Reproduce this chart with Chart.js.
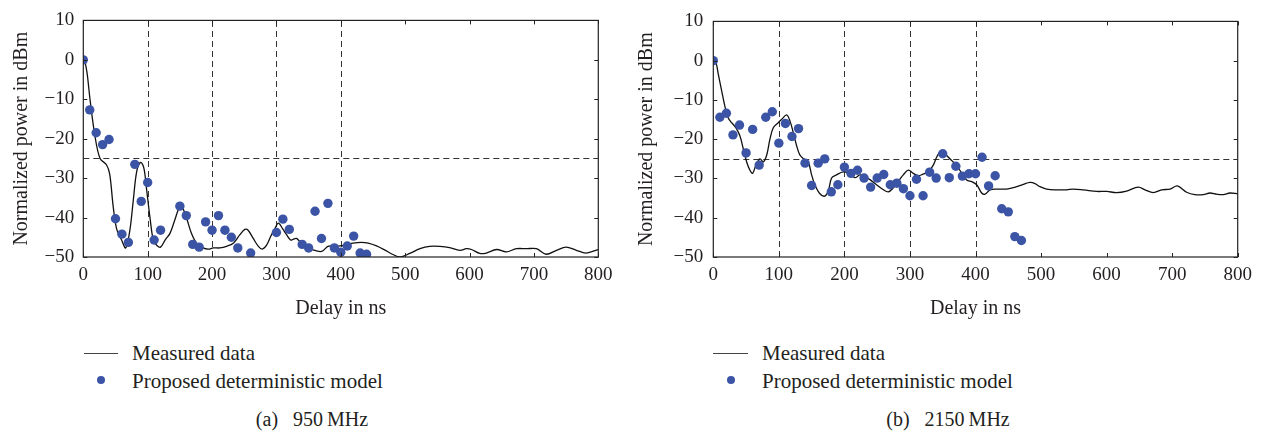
<!DOCTYPE html>
<html><head><meta charset="utf-8">
<script src="https://cdn.jsdelivr.net/npm/chart.js@4.4.1/dist/chart.umd.min.js"></script>
<style>
html,body{margin:0;padding:0;background:#fff;}
body{width:1264px;height:434px;position:relative;overflow:hidden;font-family:'Liberation Serif','DejaVu Serif',serif;color:#231f20;}
.cv{position:absolute;top:0;width:632px;height:330px;}
.txt{position:absolute;font-size:21px;line-height:24px;white-space:nowrap;}
.cap{position:absolute;font-size:20px;line-height:24px;white-space:nowrap;width:300px;text-align:center;}
.lline{position:absolute;height:0;border-top:1.5px solid #444;}
.ldot{position:absolute;width:8px;height:8px;border-radius:50%;background:#3b54a5;}
</style></head>
<body>
<div class="cv" style="left:0"><canvas id="c1" width="632" height="330"></canvas></div>
<div class="cv" style="left:632px"><canvas id="c2" width="632" height="330"></canvas></div>

<div class="lline" style="left:84px;top:353px;width:34px"></div>
<div class="txt" style="left:132px;top:341px">Measured data</div>
<div class="ldot" style="left:97px;top:376px"></div>
<div class="txt" style="left:132px;top:369px">Proposed deterministic model</div>
<div class="cap" style="left:162px;top:407px">(a)&ensp; 950&#8201;MHz</div>

<div class="lline" style="left:713px;top:353px;width:35px"></div>
<div class="txt" style="left:762px;top:341px">Measured data</div>
<div class="ldot" style="left:727px;top:376px"></div>
<div class="txt" style="left:762px;top:369px">Proposed deterministic model</div>
<div class="cap" style="left:798px;top:407px">(b)&ensp; 2150&#8201;MHz</div>

<script>
// ---- tick labels / reference lines ----
const delayTicks = [0, 100, 200, 300, 400, 500, 600, 700, 800];
const powerTicks = [10, 0, -10, -20, -30, -40, -50];
const refDelays = [100, 200, 300, 400];
const refPower = -25;

// ---- (a) 950 MHz ----
const measured950Delay = [0,2.6,6,10.4,18,26,36,41,46.6,52,59.5,66,72.5,77.6,83,89,94,98,103.5,108.7,114,120,127,134.6,142,150,155,161.5,168,176,186,194,202,212,222.5,233,243,251,256,264,272,278,284.7,291,297.6,303,309.5,316,322,326,331,336,347,357,370,380,388,398.5,409,419,432,442.5,455.5,468,480,492,507,523,538,554,569,585,595,603,616,626,642,657,673,688,704,719,735,750,766,781,800];
const measured950Power = [0,-0.6,-3.5,-10,-19.2,-25,-26.6,-29,-37.4,-43,-45.7,-47.7,-43,-35.7,-28.3,-26,-27.4,-32.4,-39.9,-45.7,-47,-47.5,-45.7,-44,-40.7,-37.2,-37.8,-40.7,-44,-46.5,-47.7,-48,-47.7,-47.7,-47.3,-46.5,-44.4,-43,-43.2,-45.3,-47.3,-48,-47,-44.8,-42.8,-41.4,-42.8,-44.4,-45.7,-45.5,-45.3,-46,-47.3,-48.2,-48.6,-47.3,-47.2,-47.2,-46.9,-46.5,-46.3,-46.5,-47.2,-48.2,-49.3,-50,-49.1,-47.9,-47.3,-47.3,-47.6,-48.3,-47.9,-48.1,-49.1,-49,-48.1,-48.7,-47.9,-47.9,-47.9,-49.3,-48.3,-47.5,-48.3,-49,-48.1];
const model950Delay = [0,10,20,30,40,50,60,70,80,90,100,110,120,150,160,170,180,190,200,210,220,230,240,260,300,310,320,340,350,360,370,380,390,400,410,420,430,440];
const model950Power = [0,-12.7,-18.5,-21.5,-20.2,-40.3,-44.2,-46.3,-26.5,-35.9,-31.1,-45.7,-43.2,-37.1,-39.5,-46.8,-47.5,-41.1,-43.2,-39.5,-43.2,-45,-47.7,-49,-43.8,-40.4,-43,-46.8,-47.7,-38.4,-45.3,-36.4,-47.7,-48.8,-47.2,-44.7,-49,-49.3];

// ---- (b) 2150 MHz ----
const measured2150Delay = [0,4,7.6,12.7,17.8,22.9,28,34.6,40.7,45.8,50.9,55.9,60,65,71.2,76.3,81.4,86.4,91.5,99,104,111.9,117,122,127,132,138,144.9,150,155,162.7,170,175.4,180.5,188,198,208.5,216,223.7,231,239,249,259,267,274.6,282,289.8,297.5,305,312.7,320,328,335.6,340.7,346,353,361,366,376,386.6,394.2,401.8,409.4,414.5,422.2,432.3,447.6,462.9,473,483.2,490.8,498.4,508.6,523.9,539.1,549.3,564.5,584.9,600.1,615.4,630.6,648.4,658.6,671.3,684,696.7,707.9,722.1,734.8,747.5,757.7,767.9,778.1,788.3,800];
const measured2150Power = [0,-0.5,-3.4,-7.6,-11.7,-14.6,-15.8,-17.1,-19.2,-22.5,-25.8,-27.9,-28.7,-26.6,-25,-25.8,-24.1,-20,-17.1,-15.8,-15,-13.8,-15.4,-18.3,-21.6,-24,-25,-25.8,-29.1,-31.6,-33.9,-34.5,-33.2,-29.9,-29.1,-28.3,-28.7,-29.8,-29.1,-29.5,-30.3,-31.6,-32.8,-33.4,-32.4,-30.8,-29.1,-27.9,-28.7,-29.3,-28.9,-28.3,-26.6,-24.6,-23.3,-23.7,-25,-25.8,-27.9,-30.4,-30.8,-31.6,-33.7,-34,-32.9,-32.7,-32.7,-32.1,-31.5,-31,-31.3,-32.1,-32.7,-32.9,-32.9,-32.7,-32.9,-33.3,-33.3,-33.6,-33.2,-32.2,-32.9,-33.6,-32.9,-32.7,-31.9,-33.5,-34.1,-34.1,-33.7,-34,-34.1,-33.7,-33.9];
const model2150Delay = [0,10,20,30,40,50,60,70,80,90,100,110,120,130,140,150,160,170,180,190,200,210,220,230,240,250,260,270,280,290,300,310,320,330,340,350,360,370,380,390,400,410,420,430,440,450,460,470];
const model2150Power = [0,-14.4,-13.4,-18.9,-16.4,-23.5,-17.5,-26.6,-14.4,-13,-21,-16,-19.3,-17.3,-26.1,-31.8,-26.1,-25,-33.4,-31.6,-27.1,-28.7,-27.9,-29.9,-32.2,-29.9,-29,-31.6,-31.2,-32.6,-34.4,-30.2,-34.4,-28.4,-29.9,-23.7,-29.8,-26.9,-29.4,-28.8,-28.8,-24.6,-31.9,-29.3,-37.7,-38.5,-44.8,-45.8];

const TEXT = '#231f20';
const FONT = "'Liberation Serif','DejaVu Serif',serif";
Chart.defaults.font.family = FONT;
Chart.defaults.color = TEXT;

const framePlugin = {
  id: 'frame',
  beforeDatasetsDraw(chart) {
    const {ctx, chartArea: a, scales: {x, y}} = chart;
    ctx.save();
    ctx.strokeStyle = '#333';
    ctx.lineWidth = 1;
    ctx.setLineDash([6, 4]);
    refDelays.forEach(d => {
      const px = Math.round(x.getPixelForValue(d)) + 0.5;
      ctx.beginPath(); ctx.moveTo(px, a.bottom); ctx.lineTo(px, a.top); ctx.stroke();
    });
    const py = Math.round(y.getPixelForValue(refPower)) + 0.5;
    ctx.beginPath(); ctx.moveTo(a.left, py); ctx.lineTo(a.right, py); ctx.stroke();
    ctx.restore();
  },
  afterDatasetsDraw(chart) {
    const {ctx, chartArea: a, scales: {x, y}} = chart;
    ctx.save();
    ctx.strokeStyle = '#222';
    ctx.lineWidth = 1.2;
    ctx.setLineDash([]);
    ctx.strokeRect(a.left, a.top, a.right - a.left, a.bottom - a.top);
    const L = 4;
    ctx.lineWidth = 1;
    delayTicks.forEach(d => {
      const px = Math.round(x.getPixelForValue(d)) + 0.5;
      ctx.beginPath();
      ctx.moveTo(px, a.bottom); ctx.lineTo(px, a.bottom - L);
      ctx.moveTo(px, a.top); ctx.lineTo(px, a.top + L);
      ctx.stroke();
    });
    powerTicks.forEach(p => {
      const py = Math.round(y.getPixelForValue(p)) + 0.5;
      ctx.beginPath();
      ctx.moveTo(a.left, py); ctx.lineTo(a.left + L, py);
      ctx.moveTo(a.right, py); ctx.lineTo(a.right - L, py);
      ctx.stroke();
    });
    ctx.restore();
  }
};

function pts(xs, ys) { return xs.map((v, i) => ({x: v, y: ys[i]})); }

function makeChart(id, mD, mP, dD, dP, yWidth, titlePad, rightPad, tickPad) {
  return new Chart(document.getElementById(id), {
    type: 'scatter',
    data: {
      datasets: [
        {
          label: 'Proposed deterministic model',
          data: pts(dD, dP),
          showLine: false,
          pointRadius: 4.7,
          pointBackgroundColor: '#3b54a5',
          pointBorderWidth: 0,
          backgroundColor: '#3b54a5',
          order: 0
        },
        {
          label: 'Measured data',
          data: pts(mD, mP),
          showLine: true,
          pointRadius: 0,
          borderColor: '#111',
          borderWidth: 1.3,
          tension: 0.35,
          order: 1
        }
      ]
    },
    options: {
      responsive: false,
      animation: false,
      layout: {padding: {top: 16, right: rightPad, bottom: 0, left: 0}},
      plugins: {legend: {display: false}, tooltip: {enabled: false}},
      scales: {
        x: {
          type: 'linear', min: 0, max: 800,
          afterBuildTicks: s => { s.ticks = delayTicks.map(v => ({value: v})); },
          ticks: {font: {size: 19}, padding: 7, color: TEXT, maxRotation: 0},
          grid: {display: false, drawTicks: false},
          border: {display: false},
          title: {display: true, text: 'Delay in ns', font: {size: 20}, color: TEXT, padding: {top: 0, bottom: 9}},
          afterFit: s => { s.height = 73; }
        },
        y: {
          type: 'linear', min: -50, max: 10,
          afterBuildTicks: s => { s.ticks = powerTicks.map(v => ({value: v})); },
          ticks: {font: {size: 19}, padding: tickPad, color: TEXT,
                  callback: v => String(v).replace('-', '\u2212')},
          grid: {display: false, drawTicks: false},
          border: {display: false},
          title: {display: true, text: 'Normalized power in dBm', font: {size: 20}, color: TEXT, padding: {top: titlePad, bottom: 0}},
          afterFit: s => { s.width = yWidth; }
        }
      }
    },
    plugins: [framePlugin]
  });
}

makeChart('c1', measured950Delay, measured950Power, model950Delay, model950Power, 83.3, 10, 33.7, 9);
makeChart('c2', measured2150Delay, measured2150Power, model2150Delay, model2150Power, 81.3, 3, 26.3, 10);
</script>
</body></html>
